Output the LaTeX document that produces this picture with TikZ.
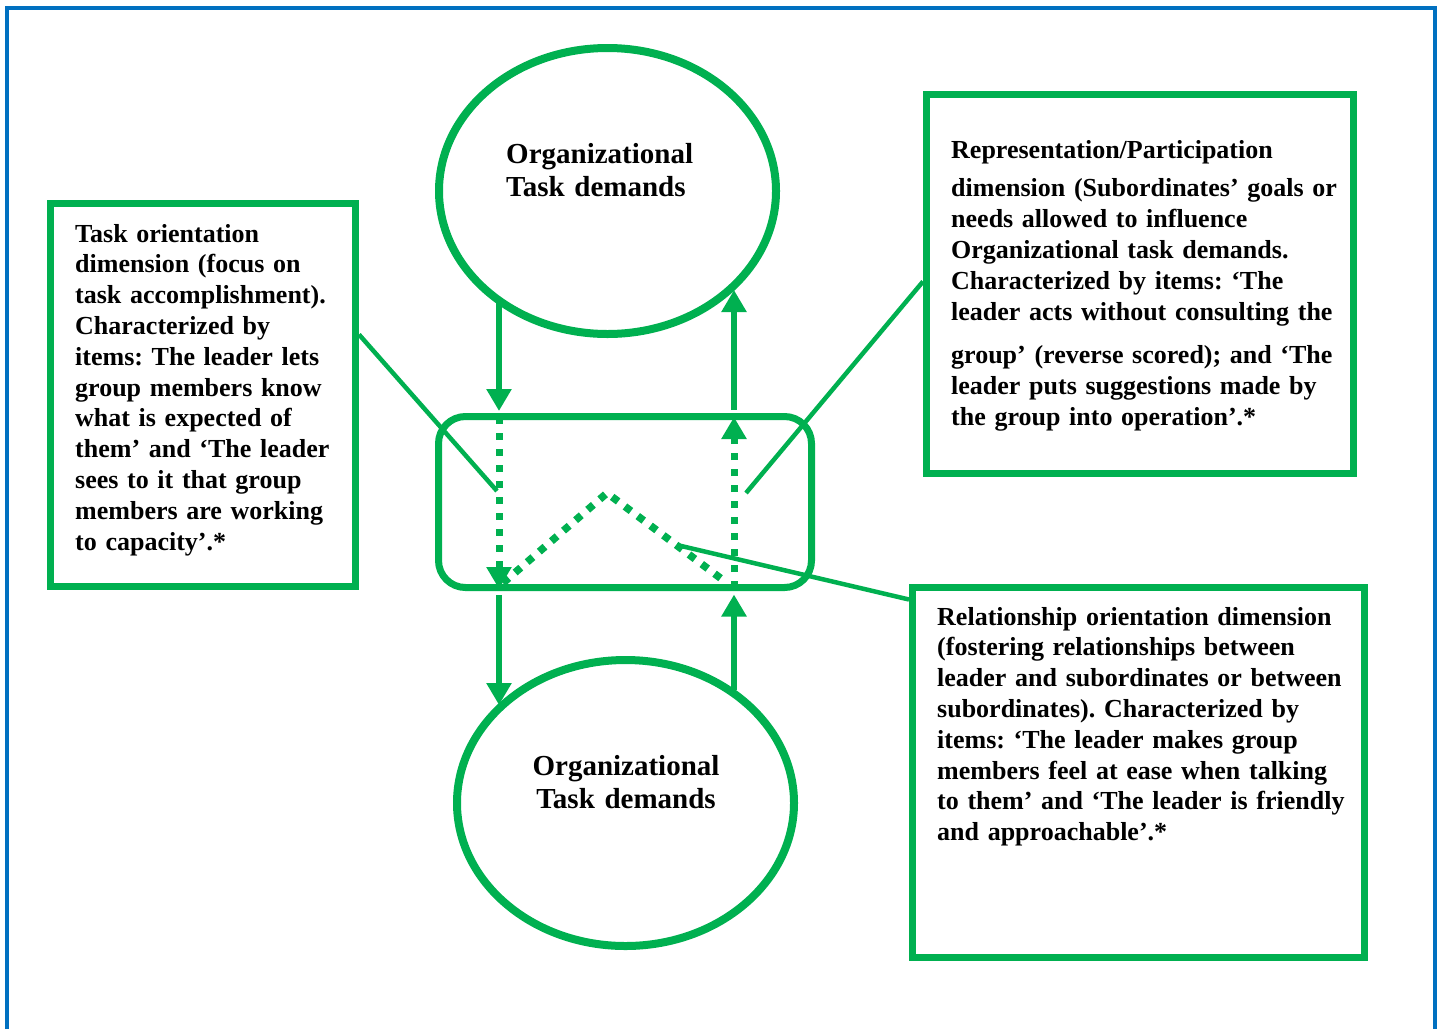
\documentclass[tikz,border=0pt]{standalone}
\usepackage{fontspec}
\setmainfont{Liberation Serif}
\usetikzlibrary{arrows.meta,calc,shapes.geometric}
\definecolor{grn}{HTML}{00B050}
\definecolor{blu}{HTML}{0070C0}
\begin{document}
\frenchspacing
\begin{tikzpicture}[x=1pt,y=-1pt,
  ell/.style={ellipse,draw=grn,line width=8pt,minimum width=337pt,minimum height=286pt,inner sep=0pt},
  greenbox/.style={rectangle,draw=grn,line width=7pt,inner sep=0pt},
  txt/.style={font=\fontsize{26}{30.8}\selectfont\bfseries,align=left,inner sep=0pt,anchor=base west},
  etxt/.style={font=\fontsize{29}{33.5}\selectfont\bfseries,inner sep=0pt},
  arr/.style={draw=grn,line width=6pt,-{Triangle[width=24pt,length=22pt]}},
  dotarr/.style={draw=grn,line width=7pt,dash pattern=on 7pt off 9pt,-{Triangle[width=24pt,length=22pt]}},
  dotline/.style={draw=grn,line width=7.5pt,dash pattern=on 7.5pt off 8.5pt},
  conn/.style={draw=grn,line width=4.5pt}]
\useasboundingbox (0,0) rectangle (1439,1029);
% outer frame
\draw[blu,line width=4pt] (7,1029) -- (7,8) -- (1435,8) -- (1435,1029);
% ellipses
\node[ell] (top) at (607.5,191) {};
\node[ell] (bot) at (625.5,803) {};
\node[etxt,anchor=base west,align=left,text width=250pt] (toptxt) at (506,163) {Organizational\\Task demands};
\node[etxt,anchor=base,align=center,text width=320pt] (bottxt) at (626,775) {Organizational\\Task demands};
% central rounded rectangle
\node[draw=grn,line width=7pt,rounded corners=27pt,minimum width=373pt,minimum height=171pt,inner sep=0pt] (mid) at (625,502) {};
% boxes
\node[greenbox,minimum width=305pt,minimum height=383pt] (tbox) at (203,395) {};
\node[greenbox,minimum width=427pt,minimum height=379pt] (pbox) at (1140,284) {};
\node[greenbox,minimum width=452pt,minimum height=370pt] (rbox) at (1138.5,772.5) {};
% box texts
\node[txt,text width=300pt] (ttxt) at (75,242) {Task orientation\\dimension (focus on\\task accomplishment).\\Characterized by\\items: The leader lets\\group members know\\what is expected of\\them’ and ‘The leader\\sees to it that group\\members are working\\to capacity’.*};
\node[txt,text width=400pt] (ptxt) at (951,158) {Representation/Participation\\[8pt]dimension (Subordinates’ goals or\\needs allowed to influence\\Organizational task demands.\\Characterized by items: ‘The\\leader acts without consulting the\\[13pt]group’ (reverse scored); and ‘The\\leader puts suggestions made by\\the group into operation’.*};
\node[txt,text width=425pt] (rtxt) at (937,625) {Relationship orientation dimension\\(fostering relationships between\\leader and subordinates or between\\subordinates). Characterized by\\items: ‘The leader makes group\\members feel at ease when talking\\to them’ and ‘The leader is friendly\\and approachable’.*};
% arrow end points
\coordinate (l1) at ($(top.center)+(-108.5,109)$);
\coordinate (l2) at ($(mid.north)+(-126,-2)$);
\coordinate (l3) at ($(mid.north)+(-126,4)$);
\coordinate (l4) at ($(mid.south)+(-126,-2)$);
\coordinate (l5) at ($(mid.south)+(-126,4)$);
\coordinate (l6) at ($(bot.center)+(-126.5,-98)$);
\coordinate (r1) at ($(bot.center)+(108.5,-113)$);
\coordinate (r2) at ($(mid.south)+(109,3.5)$);
\coordinate (r3) at ($(mid.south)+(109,-3)$);
\coordinate (r4) at ($(mid.north)+(109,4)$);
\coordinate (r5) at ($(mid.north)+(109,-3)$);
\coordinate (r6) at ($(top.center)+(126.5,99)$);
% vertical arrows
\draw[arr] (l1) -- (l2);
\draw[dotarr] (l3) -- (l4);
\draw[arr] (l5) -- (l6);
\draw[arr] (r1) -- (r2);
\draw[dotarr] (r3) -- (r4);
\draw[arr] (r5) -- (r6);
% dotted zigzag
\coordinate (z1) at (503,583);
\coordinate (z2) at (607,493);
\coordinate (z3) at (727,583);
\draw[dotline] (z1) -- (z2) -- (z3);
% connectors
\coordinate (c1) at (497,491);
\coordinate (c2) at (746,493);
\coordinate (c3) at (677,545);
\draw[conn] ($(tbox.north east)+(0,134.5)$) -- (c1);
\draw[conn] ($(pbox.north west)+(0,190.5)$) -- (c2);
\draw[conn] ($(rbox.north west)+(0,15.5)$) -- (c3);
\end{tikzpicture}
\end{document}
